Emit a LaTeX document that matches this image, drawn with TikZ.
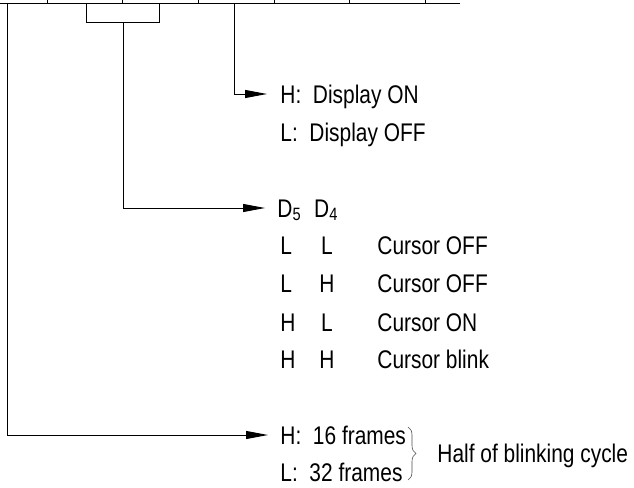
\documentclass[tikz,border=0pt]{standalone}
\usepackage{fontspec}
\setmainfont[FakeStretch=0.82]{Liberation Sans}
\usepackage{tikz}
\usetikzlibrary{arrows.meta,calc,decorations.pathreplacing,positioning}

\tikzset{
  ctrl schemes/.style = {
    x=1pt, y=-1pt,
    line width = 0.9pt,
    % text cells
    txt/.style = {
      inner sep=0pt, anchor=west,
      text height=18pt, text depth=0pt,
      font=\fontsize{25.5}{29}\selectfont
    },
    % lines, arrows
    reg line/.style     = {line width = 0.9pt},
    connect line/.style = {line width = 0.9pt,
      -{Triangle[length=22pt,width=8pt]}},
    half brace/.style   = {line width = 0.6pt, black!70,
      decorate, decoration={brace, amplitude=8pt}},
  }
}

\begin{document}
\begin{tikzpicture}[ctrl schemes]
\useasboundingbox (0,0) rectangle (634,487);

% register bar
\draw[reg line] (0,3) -- (460,3);
\foreach \x in {47,122,198,274,349,425}
  \draw[reg line] (\x,0) -- (\x,3);

\coordinate (bitB)  at (7,3);
\coordinate (bitCa) at (86,3);
\coordinate (bitCb) at (159,3);
\coordinate (bitD)  at (234,3);
\draw[reg line] (bitCa) -- (86,22) -- (159,22) -- (bitCb);
\coordinate (bitC) at (123,22);

% display
\node[txt] (dispon)  at (280,94)  {H:\ \ Display ON};
\node[txt] (dispoff) at (280,132) {L:\ \ Display OFF};

% cursor
\node[txt] (dhead) at (277,208) {D\textsubscript{5}\hspace{13pt}D\textsubscript{4}};
\foreach \y/\a/\b/\t [count=\i] in
   {245/L/L/Cursor OFF, 283/L/H/Cursor OFF, 322/H/L/Cursor ON, 359/H/H/Cursor blink}
{
  \node[txt] (cura\i) at (280,\y) {\a};
  \node[txt, anchor=center] (curb\i) at (327,\y) {\b};
  \node[txt] (curt\i) at (377,\y) {\t};
}

% blink
\node[txt] (blinkh) at (280,435) {H:\ \ 16 frames};
\node[txt] (blinkl) at (280,472) {L:\ \ 32 frames};
\draw[half brace] (408,427) -- (408,480) coordinate[midway] (bracemid);
\node[txt] (half) at (437,453) {Half of blinking cycle};

% connectors
\draw[connect line] (bitD) |- ([xshift=-13pt]dispon.west);
\draw[connect line] (bitC) |- ([xshift=-12pt]dhead.west);
\draw[connect line] (bitB) |- ([xshift=-12pt]blinkh.west);

\end{tikzpicture}
\end{document}
